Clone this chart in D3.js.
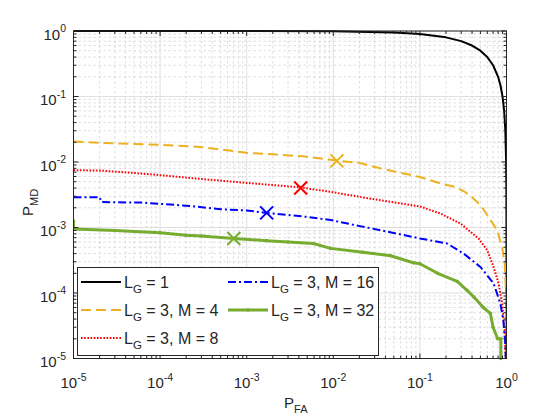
<!DOCTYPE html>
<html><head><meta charset="utf-8">
<script src="https://cdn.jsdelivr.net/npm/d3@7/dist/d3.min.js"></script>
<style>
body{margin:0;background:#fff}
svg{display:block}
text{font-family:"Liberation Sans",Arial,Helvetica,sans-serif;fill:#262626}
</style>
</head><body>
<svg id="chart" width="560" height="420"></svg>
<script>
// ---- data ----
const tickExponents = [-5, -4, -3, -2, -1, 0];

const pfa_LG1 = [1e-5, 1e-3, 1e-2, 0.05, 0.1, 0.2, 0.3, 0.4, 0.5, 0.6, 0.7, 0.8, 0.85, 0.9, 0.94, 0.97, 0.99, 0.997, 0.999, 0.9997, 0.9999, 0.99999];
const pmd_LG1 = [1, 0.999, 0.99, 0.95, 0.9, 0.8, 0.7, 0.6, 0.5, 0.4, 0.3, 0.2, 0.15, 0.1, 0.06, 0.03, 0.01, 0.003, 0.001, 3e-4, 1e-4, 1e-5];

const pfa_M4 = [1e-5, 2e-5, 1e-4, 2.9e-4, 1e-3, 2.2e-3, 0.0045, 0.011, 0.02, 0.035, 0.1, 0.173, 0.25, 0.32, 0.4, 0.5, 0.62, 0.78, 0.89, 0.955, 0.99, 0.996];
const pmd_M4 = [0.0206, 0.0196, 0.0183, 0.017, 0.0138, 0.013, 0.0122, 0.0105, 0.0097, 0.0080, 0.0059, 0.0047, 0.0042, 0.0036, 0.0029, 0.0022, 0.00145, 9.1e-4, 5e-4, 2.8e-4, 8.7e-5, 1e-5];

const pfa_M8 = [1e-5, 2e-5, 5e-5, 1e-4, 3e-4, 1e-3, 0.0042, 0.0093, 0.035, 0.1, 0.173, 0.294, 0.475, 0.6, 0.71, 0.81, 0.89, 0.95, 0.975];
const pmd_M8 = [0.0075, 0.0074, 0.0068, 0.0063, 0.0055, 0.0048, 0.0041, 0.0035, 0.0026, 0.0021, 0.00163, 0.00115, 6.8e-4, 4.5e-4, 2.5e-4, 1.4e-4, 6.9e-5, 2.7e-5, 1e-5];

const pfa_M16 = [1e-5, 2e-5, 2.1e-5, 6e-5, 1e-4, 2.5e-4, 5e-4, 1e-3, 0.0017, 0.005, 0.0093, 0.021, 0.035, 0.1, 0.206, 0.32, 0.5, 0.71, 0.85, 0.92, 0.97, 0.98];
const pmd_M16 = [0.0029, 0.0029, 0.00245, 0.0024, 0.0023, 0.0021, 0.0019, 0.00182, 0.00167, 0.00145, 0.0013, 0.00104, 9.1e-4, 6.8e-4, 5.7e-4, 4.0e-4, 2.5e-4, 1.4e-4, 6.9e-5, 3.8e-5, 1.7e-5, 1e-5];

const pfa_M32 = [1e-5, 1e-5, 3e-5, 1e-4, 2e-4, 3e-4, 7.1e-4, 1.7e-3, 3e-3, 0.0059, 0.0093, 0.022, 0.046, 0.084, 0.1, 0.16, 0.27, 0.35, 0.42, 0.54, 0.65, 0.7, 0.79, 0.86, 0.86];
const pmd_M32 = [1.25e-3, 9.5e-4, 9e-4, 8.3e-4, 7.6e-4, 7.4e-4, 6.8e-4, 6.3e-4, 6.0e-4, 5.7e-4, 4.8e-4, 4.2e-4, 3.7e-4, 2.9e-4, 2.8e-4, 2.0e-4, 1.5e-4, 1.1e-4, 8.7e-5, 6e-5, 4.9e-5, 3e-5, 2e-5, 2e-5, 1e-5];

// operating points (X markers)
const markerPfa = [0.011, 0.0042, 0.0017, 7.1e-4];
const markerPmd = [0.0104, 0.0040, 0.00167, 6.8e-4];
const markerColors = ["#EDB120", "#FF0000", "#0000FF", "#77AC30"];

const legendMain = ["L", "L", "L", "L", "L"];
const legendSub = ["G", "G", "G", "G", "G"];
const legendRest = [" = 1", " = 3, M = 4", " = 3, M = 8", " = 3, M = 16", " = 3, M = 32"];

// ---- build series table ----
const series = [
  {pfa: pfa_LG1, pmd: pmd_LG1, color: "#000000", width: 2, dash: null, dots: false},
  {pfa: pfa_M4, pmd: pmd_M4, color: "#EDB120", width: 2, dash: "10,5", dots: false},
  {pfa: pfa_M8, pmd: pmd_M8, color: "#FF0000", width: 2, dash: "1.6,1.6", dots: false},
  {pfa: pfa_M16, pmd: pmd_M16, color: "#0000FF", width: 2, dash: "8,3,2,3", dots: false},
  {pfa: pfa_M32, pmd: pmd_M32, color: "#77AC30", width: 3, dash: null, dots: true}
];

const L = 73.5, R = 506.5, T = 31, B = 358.5;
const svg = d3.select("#chart");
const x = d3.scaleLog().domain([1e-5, 1]).range([L, R]);
const y = d3.scaleLog().domain([1e-5, 1]).range([B, T]);

const majors = tickExponents.map(e => Math.pow(10, e));
const minors = [];
tickExponents.slice(0, -1).forEach(e => { for (let k = 2; k <= 9; k++) minors.push(k * Math.pow(10, e)); });

// background
svg.append("rect").attr("x", L).attr("y", T).attr("width", R - L).attr("height", B - T).attr("fill", "#fff");

// grid
const g = svg.append("g");
g.selectAll(".mxg").data(minors).enter().append("line")
  .attr("x1", d => x(d)).attr("x2", d => x(d)).attr("y1", T).attr("y2", B)
  .attr("stroke", "#c8c8c8").attr("stroke-width", 0.6).attr("stroke-dasharray", "2.5,2.5");
g.selectAll(".myg").data(minors).enter().append("line")
  .attr("y1", d => y(d)).attr("y2", d => y(d)).attr("x1", L).attr("x2", R)
  .attr("stroke", "#c8c8c8").attr("stroke-width", 0.6).attr("stroke-dasharray", "2.5,2.5");
g.selectAll(".Mxg").data(majors).enter().append("line")
  .attr("x1", d => x(d)).attr("x2", d => x(d)).attr("y1", T).attr("y2", B)
  .attr("stroke", "#d8d8d8").attr("stroke-width", 0.8);
g.selectAll(".Myg").data(majors).enter().append("line")
  .attr("y1", d => y(d)).attr("y2", d => y(d)).attr("x1", L).attr("x2", R)
  .attr("stroke", "#d8d8d8").attr("stroke-width", 0.8);

// curves
svg.append("clipPath").attr("id", "clip").append("rect")
  .attr("x", L).attr("y", T - 2).attr("width", R - L).attr("height", B - T + 4);
const plot = svg.append("g").attr("clip-path", "url(#clip)");
series.forEach(s => {
  const pts = s.pfa.map((v, i) => [v, s.pmd[i]]);
  const line = d3.line().x(d => x(d[0])).y(d => y(d[1]));
  plot.append("path").attr("d", line(pts)).attr("fill", "none")
    .attr("stroke", s.color).attr("stroke-width", s.width)
    .attr("stroke-dasharray", s.dash).attr("stroke-linejoin", "round");
  if (s.dots) {
    plot.selectAll(null).data(pts).enter().append("circle")
      .attr("cx", d => x(d[0])).attr("cy", d => y(d[1])).attr("r", 1.8)
      .attr("fill", s.color);
  }
});

// X markers
markerPfa.forEach((v, i) => {
  const cx = x(v), cy = y(markerPmd[i]), r = 6.5;
  plot.append("path").attr("d", `M${cx - r},${cy - r}L${cx + r},${cy + r}M${cx - r},${cy + r}L${cx + r},${cy - r}`)
    .attr("stroke", markerColors[i]).attr("stroke-width", 2).attr("fill", "none");
});

// axes box + ticks
const ax = svg.append("g").attr("stroke", "#262626").attr("stroke-width", 1);
ax.append("rect").attr("x", L).attr("y", T).attr("width", R - L).attr("height", B - T).attr("fill", "none");
const tick = (vals, len) => {
  vals.forEach(v => {
    const px = x(v), py = y(v);
    ax.append("line").attr("x1", px).attr("x2", px).attr("y1", B).attr("y2", B - len);
    ax.append("line").attr("x1", px).attr("x2", px).attr("y1", T).attr("y2", T + len);
    ax.append("line").attr("y1", py).attr("y2", py).attr("x1", L).attr("x2", L + len);
    ax.append("line").attr("y1", py).attr("y2", py).attr("x1", R).attr("x2", R - len);
  });
};
tick(majors, 5);
tick(minors, 3);

// tick labels
tickExponents.forEach(e => {
  const v = Math.pow(10, e);
  const tx = svg.append("text").attr("x", x(v)).attr("y", 388).attr("text-anchor", "middle").attr("font-size", 15);
  tx.append("tspan").text("10");
  tx.append("tspan").attr("dy", -7.5).attr("font-size", 10.5).text(e === 0 ? "0" : "-" + Math.abs(e));
  const ty = svg.append("text").attr("x", 66).attr("y", y(v) + 8.5).attr("text-anchor", "end").attr("font-size", 15);
  ty.append("tspan").text("10");
  ty.append("tspan").attr("dy", -7.5).attr("font-size", 10.5).text(e === 0 ? "0" : "-" + Math.abs(e));
});

// axis labels
const xl = svg.append("text").attr("x", 284).attr("y", 408).attr("font-size", 15);
xl.append("tspan").text("P");
xl.append("tspan").attr("dy", 5).attr("font-size", 11).text("FA");
const yl = svg.append("text").attr("transform", "translate(33,216) rotate(-90)").attr("font-size", 15);
yl.append("tspan").text("P");
yl.append("tspan").attr("dy", 5).attr("font-size", 11).text("MD");

// legend
const lg = svg.append("g");
lg.append("rect").attr("x", 77.5).attr("y", 267.5).attr("width", 301).attr("height", 88)
  .attr("fill", "#fff").attr("stroke", "#262626").attr("stroke-width", 1);
const colX = [81, 228];
const rowY = [282, 310, 338];
series.forEach((s, i) => {
  const c = i < 3 ? 0 : 1, r = i < 3 ? i : i - 3;
  const lx = colX[c], ly = rowY[r];
  lg.append("line").attr("x1", lx).attr("x2", lx + 40).attr("y1", ly).attr("y2", ly)
    .attr("stroke", s.color).attr("stroke-width", s.width).attr("stroke-dasharray", s.dash);
  if (s.dots) lg.append("circle").attr("cx", lx + 20).attr("cy", ly).attr("r", 1.8).attr("fill", s.color);
  const t = lg.append("text").attr("x", lx + 43).attr("y", ly + 5.5).attr("font-size", 16);
  t.append("tspan").text(legendMain[i]);
  t.append("tspan").attr("dy", 5.5).attr("font-size", 11.5).text(legendSub[i]);
  t.append("tspan").attr("dy", -5.5).text(legendRest[i]);
});
</script>
</body></html>
